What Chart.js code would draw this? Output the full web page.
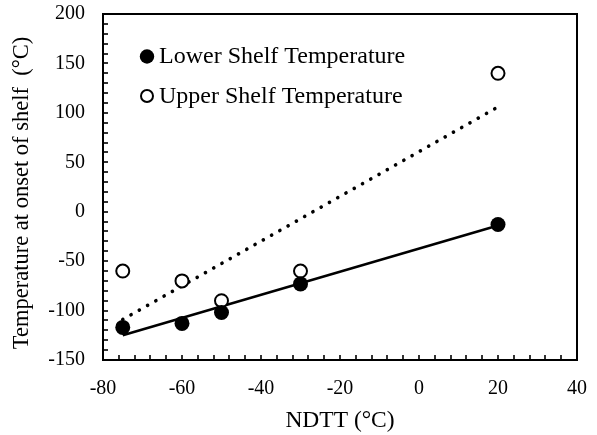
<!DOCTYPE html>
<html>
<head>
<meta charset="utf-8">
<script src="https://cdn.jsdelivr.net/npm/chart.js@4/dist/chart.umd.min.js"></script>
<style>
html,body{margin:0;padding:0;background:#fff;}
#wrap{width:597px;height:435px;position:relative;}
</style>
</head>
<body>
<div id="wrap"><canvas id="c" width="597" height="435"></canvas></div>
<script>
// ---- data ----
const ndttLower = [-75, -60, -50, -30, 20];
const lowerShelf = [-117, -113, -102, -73, -13];
const ndttUpper = [-75, -60, -50, -30, 20];
const upperShelf = [-60, -70, -90, -60, 140];
// trend line end points
const lowerTrendX = [-75, 20];
const lowerTrendY = [-125, -14];
const upperTrendX = [-75, 20];
const upperTrendY = [-109, 106];
const seriesLabels = ['Lower Shelf Temperature', 'Upper Shelf Temperature'];
const xTitle = 'NDTT (°C)';
const yTitle = 'Temperature at onset of shelf  (°C)';
const xRange = [-80, 40], xMajor = 20, xMinor = 4;
const yRange = [-150, 200], yMajor = 50, yMinor = 10;

const pts = (xs, ys) => xs.map((x, i) => ({x: x, y: ys[i]}));
const FONT = "'Liberation Serif', 'Times New Roman', serif";

const framePlugin = {
  id: 'frame',
  afterDatasetsDraw(chart) {
    const {ctx, chartArea: a, scales} = chart;
    ctx.save();
    ctx.strokeStyle = '#000';
    ctx.lineWidth = 2;
    ctx.strokeRect(a.left, a.top, a.right - a.left, a.bottom - a.top);
    ctx.lineWidth = 1.6;
    const xs = scales.x, ys = scales.y;
    for (let v = xRange[0] + xMinor; v < xRange[1]; v += xMinor) {
      const px = Math.round(xs.getPixelForValue(v));
      ctx.beginPath();
      ctx.moveTo(px, a.bottom);
      ctx.lineTo(px, a.bottom - 5);
      ctx.stroke();
    }
    for (let v = yRange[0] + yMinor; v < yRange[1]; v += yMinor) {
      const py = Math.round(ys.getPixelForValue(v));
      ctx.beginPath();
      ctx.moveTo(a.left, py);
      ctx.lineTo(a.left + 5, py);
      ctx.stroke();
    }
    ctx.restore();
  }
};

const textPlugin = {
  id: 'texts',
  afterDraw(chart) {
    const {ctx} = chart;
    ctx.save();
    // y-axis title
    ctx.font = "22.5px " + FONT;
    ctx.fillStyle = '#000';
    ctx.textAlign = 'center';
    ctx.textBaseline = 'middle';
    ctx.translate(22.5, 193);
    ctx.rotate(-Math.PI / 2);
    ctx.fillText(yTitle, 0, 0);
    ctx.restore();

    ctx.save();
    ctx.font = "24px " + FONT;
    ctx.textBaseline = 'middle';
    ctx.textAlign = 'left';
    ctx.fillStyle = '#000';
    // filled marker
    ctx.beginPath();
    ctx.arc(147, 56.5, 7.2, 0, Math.PI * 2);
    ctx.fill();
    ctx.fillText(chart.data.datasets[0].label, 159, 57);
    // open marker
    ctx.beginPath();
    ctx.arc(147, 96, 6, 0, Math.PI * 2);
    ctx.fillStyle = '#fff';
    ctx.fill();
    ctx.lineWidth = 2;
    ctx.strokeStyle = '#000';
    ctx.stroke();
    ctx.fillStyle = '#000';
    ctx.fillText(chart.data.datasets[1].label, 159, 97);
    ctx.restore();
  }
};

function fixPad(s) {
  s.paddingTop = 0; s.paddingBottom = 0; s.paddingLeft = 0; s.paddingRight = 0;
}

new Chart(document.getElementById('c'), {
  type: 'scatter',
  data: {
    datasets: [
      {
        label: seriesLabels[0],
        data: pts(ndttLower, lowerShelf),
        pointRadius: 7.5, pointHoverRadius: 7.5,
        backgroundColor: '#000', borderColor: '#000', borderWidth: 0,
        order: 0
      },
      {
        label: seriesLabels[1],
        data: pts(ndttUpper, upperShelf),
        pointRadius: 6.5, pointHoverRadius: 6.5,
        backgroundColor: '#fff', borderColor: '#000', borderWidth: 2,
        order: 1
      },
      {
        label: 'lower trend',
        data: pts(lowerTrendX, lowerTrendY),
        showLine: true, pointRadius: 0, borderColor: '#000', borderWidth: 2.5,
        order: 2
      },
      {
        label: 'upper trend',
        data: pts(upperTrendX, upperTrendY),
        showLine: true, pointRadius: 0, borderColor: '#000', borderWidth: 3.6,
        borderDash: [0.1, 9.4], borderCapStyle: 'round',
        order: 3
      }
    ]
  },
  options: {
    responsive: false,
    animation: false,
    devicePixelRatio: 1,
    layout: {padding: {top: 14, right: 20, left: 0, bottom: 0}},
    plugins: {legend: {display: false}, tooltip: {enabled: false}},
    scales: {
      x: {
        type: 'linear', min: xRange[0], max: xRange[1],
        grid: {display: false, drawTicks: false},
        border: {display: false},
        ticks: {stepSize: xMajor, padding: 17, color: '#000', font: {family: FONT, size: 20}, maxRotation: 0},
        title: {display: true, text: xTitle, color: '#000', font: {family: FONT, size: 23.5}, padding: {top: 0, bottom: 0}},
        afterFit(s) { s.height = 75; fixPad(s); }
      },
      y: {
        type: 'linear', min: yRange[0], max: yRange[1],
        grid: {display: false, drawTicks: false},
        border: {display: false},
        ticks: {stepSize: yMajor, padding: 18, color: '#000', font: {family: FONT, size: 20}},
        title: {display: false},
        afterFit(s) { s.width = 103; fixPad(s); }
      }
    }
  },
  plugins: [framePlugin, textPlugin]
});
</script>
</body>
</html>
